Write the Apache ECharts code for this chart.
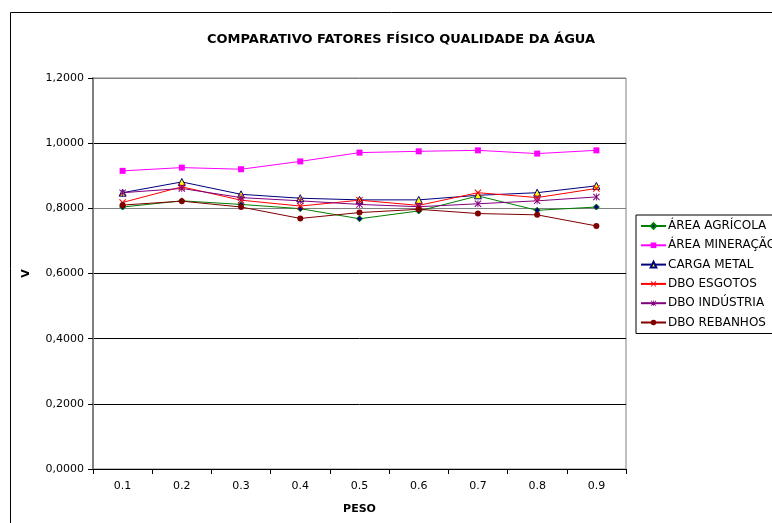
<!DOCTYPE html>
<html lang="pt">
<head>
    <meta charset="UTF-8">
    <title>Comparativo fatores físico qualidade da água</title>
    <script src="https://cdn.jsdelivr.net/npm/echarts@6/dist/echarts.min.js"></script>
    <style>
        html, body { margin: 0; padding: 0; background: #fff; }
        #chart1 { width: 772px; height: 523px; }
    </style>
</head>
<body>
<div id="chart1"></div>
<script type="text/javascript">
    // pesos (eixo x)
    var pesos = ['0.1', '0.2', '0.3', '0.4', '0.5', '0.6', '0.7', '0.8', '0.9'];
    var yTicks = [0, 0.2, 0.4, 0.6, 0.8, 1.0, 1.2];

    var areaAgricola  = [0.804, 0.823, 0.812, 0.799, 0.768, 0.792, 0.838, 0.794, 0.804];
    var areaMineracao = [0.915, 0.925, 0.920, 0.944, 0.971, 0.975, 0.978, 0.968, 0.978];
    var cargaMetal    = [0.848, 0.881, 0.843, 0.831, 0.826, 0.826, 0.840, 0.848, 0.869];
    var dboEsgotos    = [0.818, 0.866, 0.825, 0.807, 0.825, 0.809, 0.848, 0.833, 0.861];
    var dboIndustria  = [0.848, 0.861, 0.833, 0.823, 0.812, 0.805, 0.814, 0.823, 0.835];
    var dboRebanhos   = [0.810, 0.822, 0.804, 0.769, 0.787, 0.797, 0.784, 0.780, 0.746];

    var fonte = 'DejaVu Sans';
    var xSymbol = 'path://M0,1L1,0L5,4L9,0L10,1L6,5L10,9L9,10L5,6L1,10L0,9L4,5Z';
    var starSymbol = 'path://M0,1L1,0L5,4L9,0L10,1L6,5L10,9L9,10L5,6L1,10L0,9L4,5Z M4.4,0L5.6,0L5.6,10L4.4,10Z';

    function serie(nome, dados, cor, simbolo, tamanho, preenchimento) {
        return {
            name: nome,
            type: 'line',
            data: dados,
            symbol: simbolo,
            symbolSize: tamanho,
            showAllSymbol: true,
            lineStyle: { color: cor, width: 1 },
            itemStyle: { color: preenchimento || cor, borderColor: cor, borderWidth: preenchimento ? 1 : 0 },
            emphasis: { disabled: true },
            animation: false
        };
    }

    var chart = echarts.init(document.getElementById('chart1'));
    var option = {
        backgroundColor: '#fff',
        textStyle: { fontFamily: fonte },
        title: {
            text: 'COMPARATIVO FATORES FÍSICO QUALIDADE DA ÁGUA',
            left: 202,
            top: 28,
            textStyle: { fontSize: 13, fontWeight: 'bold', color: '#000', fontFamily: fonte }
        },
        graphic: [{
            type: 'rect',
            shape: { x: 10.5, y: 12.5, width: 800, height: 600 },
            style: { fill: 'none', stroke: '#000', lineWidth: 1 },
            silent: true
        }],
        legend: {
            orient: 'vertical',
            left: 636,
            top: 215,
            padding: [5, 20, 5, 4],
            itemWidth: 25,
            itemHeight: 7,
            itemGap: 7.3,
            borderColor: '#000',
            borderWidth: 1,
            textStyle: { fontSize: 12, color: '#000', lineHeight: 12, fontFamily: fonte, padding: [0, 0, 0, -3] },
            data: ['ÁREA AGRÍCOLA', 'ÁREA MINERAÇÃO', 'CARGA METAL', 'DBO ESGOTOS', 'DBO INDÚSTRIA', 'DBO REBANHOS']
        },
        grid: { left: 93, right: 146, top: 78, bottom: 54, show: true, borderColor: '#808080', borderWidth: 1 },
        xAxis: {
            type: 'category',
            data: pesos,
            boundaryGap: true,
            name: 'PESO',
            nameLocation: 'middle',
            nameGap: 35,
            nameTextStyle: { fontSize: 11, fontWeight: 'bold', color: '#000', fontFamily: fonte },
            axisLine: { lineStyle: { color: '#000', width: 1 } },
            axisTick: { show: true, length: 5, lineStyle: { color: '#000' } },
            axisLabel: { fontSize: 11, color: '#000', margin: 12, fontFamily: fonte }
        },
        yAxis: {
            type: 'value',
            min: yTicks[0],
            max: yTicks[yTicks.length - 1],
            interval: 0.2,
            name: 'V',
            nameLocation: 'middle',
            nameGap: 61,
            nameTextStyle: { fontSize: 11, fontWeight: 'bold', color: '#000', fontFamily: fonte },
            axisLine: { show: true, lineStyle: { color: '#808080', width: 2 } },
            axisTick: { show: true, length: 5, lineStyle: { color: '#000' } },
            axisLabel: {
                fontSize: 11, color: '#000', margin: 9, fontFamily: fonte,
                formatter: function (v) { return v.toFixed(4).replace('.', ','); }
            },
            splitLine: { show: true, lineStyle: { color: ['#000', '#000', '#000', '#000', '#808080', '#000', '#808080'], width: 1 } }
        },
        series: [
            serie('ÁREA AGRÍCOLA', areaAgricola, '#008000', 'diamond', 6, '#000080'),
            serie('ÁREA MINERAÇÃO', areaMineracao, '#FF00FF', 'rect', 6),
            serie('CARGA METAL', cargaMetal, '#000080', 'triangle', 7, '#FFFF00'),
            serie('DBO ESGOTOS', dboEsgotos, '#FF0000', xSymbol, 7),
            serie('DBO INDÚSTRIA', dboIndustria, '#800080', starSymbol, 7),
            serie('DBO REBANHOS', dboRebanhos, '#800000', 'circle', 6)
        ]
    };
    chart.setOption(option);
</script>
</body>
</html>
